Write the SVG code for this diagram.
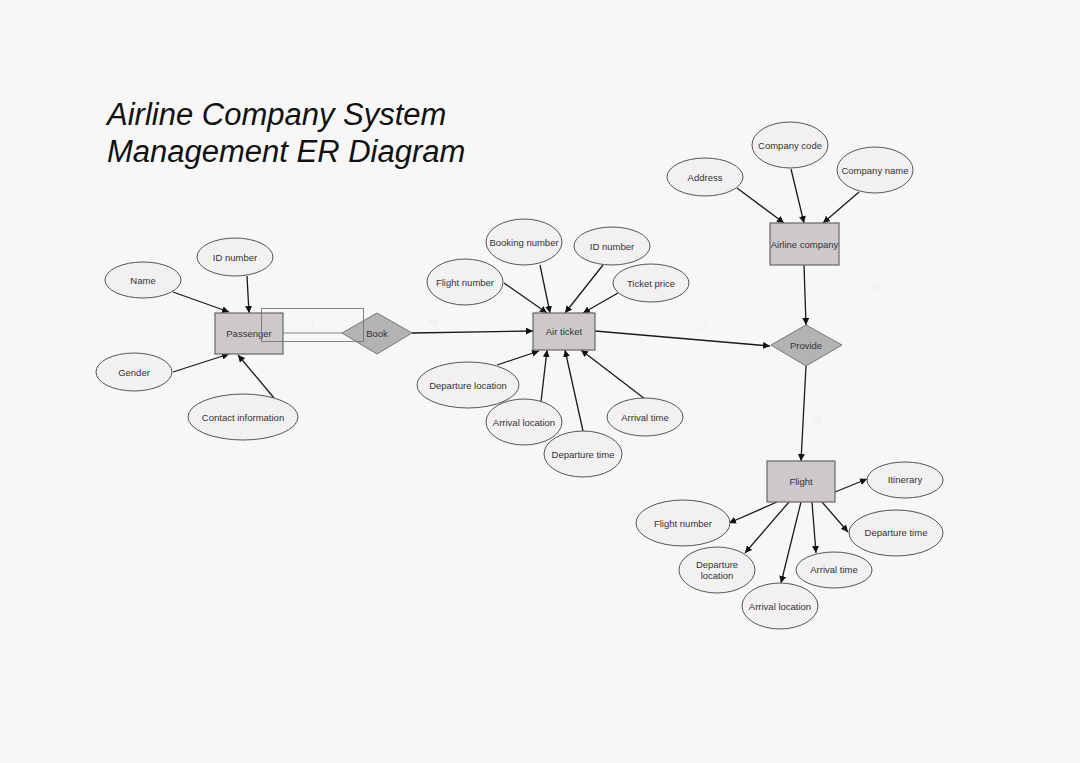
<svg xmlns="http://www.w3.org/2000/svg" width="1080" height="763" viewBox="0 0 1080 763">
<defs>
<marker id="arr" viewBox="0 0 10 10" refX="10" refY="5" markerWidth="7" markerHeight="7" markerUnits="userSpaceOnUse" orient="auto">
<path d="M0,0 L10,5 L0,10 z" fill="#111"/>
</marker>
<style>
.t{font-family:"Liberation Sans",Arial,sans-serif;font-size:9.5px;fill:#333;text-anchor:middle;dominant-baseline:central}
.title{font-family:"Liberation Sans",Arial,sans-serif;font-size:31px;font-style:italic;fill:#111}
.attr{fill:#f2f0f1;stroke:#555;stroke-width:1}
.ent{fill:#cdc9ca;stroke:#666;stroke-width:1.2}
.rel{fill:#b3b3b3;stroke:#777;stroke-width:1}
.c{stroke:#1a1a1a;stroke-width:1.3;fill:none;marker-end:url(#arr)}
.thin{stroke:#777;stroke-width:0.9;fill:none}
.faint{font-family:"Liberation Sans",Arial,sans-serif;font-size:11px;fill:#eeeeee;text-anchor:middle;dominant-baseline:central}
</style>
</defs>
<rect x="0" y="0" width="1080" height="763" fill="#f7f7f7"/>
<g id="title">
<text class="title" x="107" y="125">Airline Company System</text>
<text class="title" x="107" y="162">Management ER Diagram</text>
</g>
<g id="faint-labels">
<text class="faint" x="312" y="326">1</text>
<text class="faint" x="433" y="322">M</text>
<text class="faint" x="703" y="328">P</text>
<text class="faint" x="875" y="288">O</text>
<text class="faint" x="818" y="420">S</text>
</g>
<g id="connectors">
<line class="c" x1="173" y1="292" x2="229" y2="312"/>
<line class="c" x1="247" y1="276" x2="249" y2="313"/>
<line class="c" x1="173" y1="372" x2="229" y2="354"/>
<line class="c" x1="274" y1="398" x2="238" y2="355"/>
<line class="c" x1="412" y1="333" x2="533" y2="331"/>
<line class="c" x1="504" y1="283" x2="547" y2="313"/>
<line class="c" x1="540" y1="265" x2="550" y2="313"/>
<line class="c" x1="603" y1="265" x2="565" y2="313"/>
<line class="c" x1="618" y1="293" x2="583" y2="313"/>
<line class="c" x1="497" y1="365" x2="539" y2="351"/>
<line class="c" x1="541" y1="402" x2="547" y2="350"/>
<line class="c" x1="583" y1="431" x2="565" y2="350"/>
<line class="c" x1="645" y1="399" x2="581" y2="350"/>
<line class="c" x1="595" y1="331" x2="770" y2="346"/>
<line class="c" x1="737" y1="188" x2="784" y2="223"/>
<line class="c" x1="791" y1="169" x2="804" y2="223"/>
<line class="c" x1="859" y1="192" x2="823" y2="223"/>
<line class="c" x1="804" y1="265" x2="806" y2="325"/>
<line class="c" x1="806" y1="366" x2="801" y2="461"/>
<line class="c" x1="835" y1="492" x2="867" y2="479"/>
<line class="c" x1="777" y1="502" x2="729" y2="523"/>
<line class="c" x1="789" y1="502" x2="745" y2="553"/>
<line class="c" x1="801" y1="502" x2="781" y2="583"/>
<line class="c" x1="812" y1="502" x2="816" y2="553"/>
<line class="c" x1="822" y1="502" x2="848" y2="532"/>
</g>
<g id="passenger"><rect class="ent" x="215" y="313" width="68" height="41"/><text class="t" x="249" y="333">Passenger</text></g>
<g id="p-name"><ellipse class="attr" cx="143" cy="280" rx="38" ry="18"/><text class="t" x="143" y="280">Name</text></g>
<g id="p-id"><ellipse class="attr" cx="235" cy="257" rx="38" ry="19"/><text class="t" x="235" y="257">ID number</text></g>
<g id="p-gender"><ellipse class="attr" cx="134" cy="372" rx="38" ry="19"/><text class="t" x="134" y="372">Gender</text></g>
<g id="p-contact"><ellipse class="attr" cx="243" cy="417" rx="55" ry="23"/><text class="t" x="243" y="417">Contact information</text></g>
<g id="book"><polygon class="rel" points="342,333 377,313 412,333 377,354"/><text class="t" x="377" y="333">Book</text></g>
<g id="book-link">
<line class="thin" x1="283" y1="333" x2="342" y2="333"/>
<rect class="thin" x="261.5" y="308.5" width="102" height="33"/>
</g>
<g id="airticket"><rect class="ent" x="533" y="313" width="62" height="37"/><text class="t" x="564" y="331">Air ticket</text></g>
<g id="a-booking"><ellipse class="attr" cx="524" cy="242" rx="38" ry="23"/><text class="t" x="524" y="242">Booking number</text></g>
<g id="a-id"><ellipse class="attr" cx="612" cy="246" rx="38" ry="19"/><text class="t" x="612" y="246">ID number</text></g>
<g id="a-flightno"><ellipse class="attr" cx="465" cy="282" rx="38" ry="23"/><text class="t" x="465" y="282">Flight number</text></g>
<g id="a-price"><ellipse class="attr" cx="651" cy="283" rx="38" ry="19"/><text class="t" x="651" y="283">Ticket price</text></g>
<g id="a-deploc"><ellipse class="attr" cx="468" cy="385" rx="51" ry="23"/><text class="t" x="468" y="385">Departure location</text></g>
<g id="a-arrloc"><ellipse class="attr" cx="524" cy="422" rx="38" ry="23"/><text class="t" x="524" y="422">Arrival location</text></g>
<g id="a-deptime"><ellipse class="attr" cx="583" cy="454" rx="39" ry="23"/><text class="t" x="583" y="454">Departure time</text></g>
<g id="a-arrtime"><ellipse class="attr" cx="645" cy="417" rx="38" ry="19"/><text class="t" x="645" y="417">Arrival time</text></g>
<g id="provide"><polygon class="rel" points="771,345 806,325 842,345 806,366"/><text class="t" x="806" y="345">Provide</text></g>
<g id="airline"><rect class="ent" x="770" y="223" width="69" height="42"/><text class="t" x="804.5" y="244">Airline company</text></g>
<g id="c-address"><ellipse class="attr" cx="705" cy="177" rx="38" ry="19"/><text class="t" x="705" y="177">Address</text></g>
<g id="c-code"><ellipse class="attr" cx="790" cy="145" rx="38" ry="23"/><text class="t" x="790" y="145">Company code</text></g>
<g id="c-name"><ellipse class="attr" cx="875" cy="170" rx="38" ry="23"/><text class="t" x="875" y="170">Company name</text></g>
<g id="flight"><rect class="ent" x="767" y="461" width="68" height="41"/><text class="t" x="801" y="481">Flight</text></g>
<g id="f-itinerary"><ellipse class="attr" cx="905" cy="480" rx="38" ry="18"/><text class="t" x="905" y="479">Itinerary</text></g>
<g id="f-flightno"><ellipse class="attr" cx="683" cy="523" rx="47" ry="23"/><text class="t" x="683" y="523">Flight number</text></g>
<g id="f-deptime"><ellipse class="attr" cx="896" cy="533" rx="47" ry="23"/><text class="t" x="896" y="532">Departure time</text></g>
<g id="f-deploc"><ellipse class="attr" cx="717" cy="570" rx="38" ry="23"/><text class="t" x="717" y="564">Departure</text><text class="t" x="717" y="575">location</text></g>
<g id="f-arrtime"><ellipse class="attr" cx="834" cy="570" rx="38" ry="18"/><text class="t" x="834" y="569">Arrival time</text></g>
<g id="f-arrloc"><ellipse class="attr" cx="780" cy="606" rx="38" ry="23"/><text class="t" x="780" y="606">Arrival location</text></g>
</svg>
